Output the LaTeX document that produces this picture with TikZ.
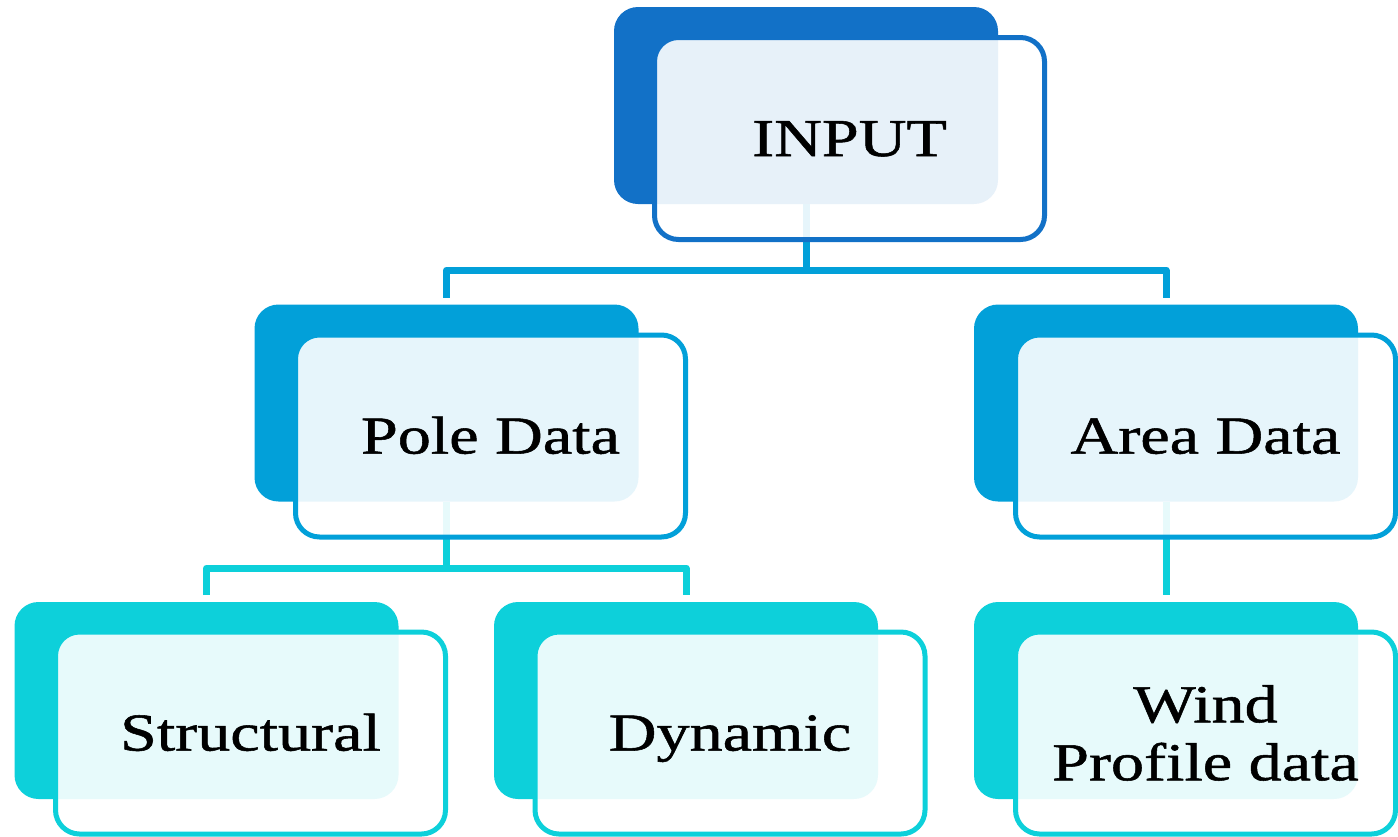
\documentclass[tikz,border=0pt]{standalone}
\usepackage{fontspec}
\setmainfont{Liberation Serif}[FakeStretch=1.24,FakeBold=1]
\definecolor{cA}{HTML}{1271C7}
\definecolor{cB}{HTML}{02A0D9}
\definecolor{cC}{HTML}{0DD0DA}
\begin{document}
\begin{tikzpicture}[x=0.75pt,y=-0.75pt,
  backbox/.style={rectangle, rounded corners=18pt, fill=#1, minimum width=288pt, minimum height=147.75pt, inner sep=0pt, outer sep=0pt},
  frontbox/.style={rectangle, rounded corners=18pt, draw=#1, line width=3.75pt, fill=white, fill opacity=0.9, draw opacity=1, text opacity=1, minimum width=292.5pt, minimum height=151.5pt, inner sep=0pt, outer sep=0pt, font=\fontsize{40}{43.5}\selectfont, align=center, text=black},
  captext/.style={text height=26.3pt, text depth=0pt},
  conn/.style={draw=#1, line width=5.25pt, line join=round}]
\useasboundingbox (0,0) rectangle (1398,836);
% back boxes
\node[backbox=cA] (inB) at (806,105.5) {};
\node[backbox=cB] (poB) at (446.5,403) {};
\node[backbox=cB] (arB) at (1166,403) {};
\node[backbox=cC] (stB) at (206.5,700.5) {};
\node[backbox=cC] (dyB) at (686,700.5) {};
\node[backbox=cC] (wiB) at (1166,700.5) {};
% connectors
\coordinate (j1) at (806,270);
\coordinate (j2) at (446.5,568);
\draw[conn=cB] (inB.south) -- (inB.south |- j1);
\draw[conn=cB] ([yshift=5.25pt]poB.north) |- (j1) -| ([yshift=5.25pt]arB.north);
\draw[conn=cC] (poB.south) -- (poB.south |- j2);
\draw[conn=cC] ([yshift=5.25pt]stB.north) |- (j2) -| ([yshift=5.25pt]dyB.north);
\draw[conn=cC] (arB.south) -- ([yshift=5.25pt]wiB.north);
% front boxes
\node[frontbox=cA, captext] (in) at (849.5,138.5) {INPUT};
\node[frontbox=cB, captext] (po) at (490.5,436) {Pole Data};
\node[frontbox=cB, captext, minimum width=285pt] (ar) at (1205.5,436) {Area Data};
\node[frontbox=cC, captext] (st) at (250.5,733) {Structural};
\node[frontbox=cC, captext] (dy) at (730,733) {Dynamic};
\node[frontbox=cC, minimum width=285pt] (wi) at (1205.5,733) {Wind\\Profile data};
\end{tikzpicture}
\end{document}
